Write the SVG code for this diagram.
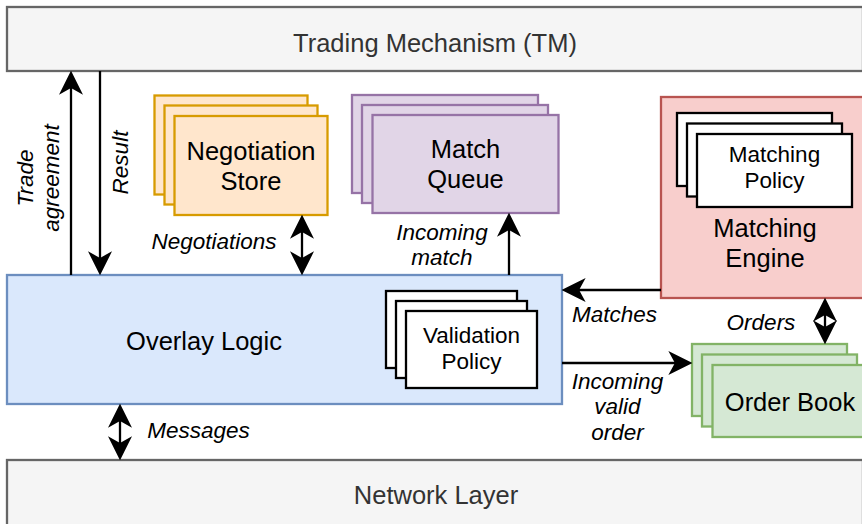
<svg xmlns="http://www.w3.org/2000/svg" width="862" height="524" viewBox="0 0 862 524">
<defs>
<marker id="arr" markerUnits="userSpaceOnUse" markerWidth="24" markerHeight="24" viewBox="0 0 22 22" refX="7" refY="11" orient="auto-start-reverse">
<path d="M0,0 L22,11 L0,22 L6,11 Z" fill="#000"/>
</marker>
<style>
.lbl{font-family:"Liberation Sans",Arial,sans-serif;font-size:25.5px;text-anchor:middle;fill:#000}
.gray{fill:#333}
.sm{font-family:"Liberation Sans",Arial,sans-serif;font-size:22.5px;text-anchor:middle;fill:#000}
.el{font-family:"Liberation Sans",Arial,sans-serif;font-size:22.5px;font-style:italic;text-anchor:middle;fill:#000}
.gbox{fill:#f5f5f5;stroke:#666;stroke-width:2.3}
.blue{fill:#dae8fc;stroke:#6c8ebf;stroke-width:2.3}
.org{fill:#ffe6cc;stroke:#d79b00;stroke-width:2.3}
.pur{fill:#e1d5e7;stroke:#9673a6;stroke-width:2.3}
.red{fill:#f8cecc;stroke:#b85450;stroke-width:2.3}
.grn{fill:#d5e8d4;stroke:#82b366;stroke-width:2.3}
.wht{fill:#fff;stroke:#000;stroke-width:2.3}
.cn{fill:none;stroke:#000;stroke-width:2.3}
</style>
</defs>
<rect width="862" height="524" fill="#fff"/>

<g id="tm">
<rect class="gbox" x="7" y="7" width="856" height="64"/>
<text class="lbl gray" x="435" y="52">Trading Mechanism (TM)</text>
</g>

<g id="network">
<rect class="gbox" x="7" y="460" width="856" height="80"/>
<text class="lbl gray" x="436" y="504">Network Layer</text>
</g>

<g id="overlay">
<rect class="blue" x="7" y="275" width="555" height="129"/>
<text class="lbl" x="204" y="350">Overlay Logic</text>
</g>

<g id="validation">
<rect class="wht" x="386" y="291" width="131" height="77"/>
<rect class="wht" x="396" y="301" width="131" height="77"/>
<rect class="wht" x="406" y="311" width="131" height="77"/>
<text class="sm" x="471.5" y="343">Validation</text>
<text class="sm" x="471.5" y="368.5">Policy</text>
</g>

<g id="negotiation">
<rect class="org" x="154.5" y="95.5" width="153" height="99"/>
<rect class="org" x="164.5" y="105.5" width="153" height="99"/>
<rect class="org" x="174.5" y="116" width="153" height="99"/>
<text class="lbl" x="251" y="159.5">Negotiation</text>
<text class="lbl" x="251" y="189.5">Store</text>
</g>

<g id="matchqueue">
<rect class="pur" x="352" y="95" width="186" height="98"/>
<rect class="pur" x="362" y="105" width="186" height="98"/>
<rect class="pur" x="372.5" y="115" width="186" height="98"/>
<text class="lbl" x="465.5" y="157.5">Match</text>
<text class="lbl" x="465.5" y="188">Queue</text>
</g>

<g id="engine">
<rect class="red" x="661" y="97" width="210" height="201"/>
<text class="lbl" x="765" y="237">Matching</text>
<text class="lbl" x="765" y="267">Engine</text>
</g>

<g id="policy">
<rect class="wht" x="677" y="113" width="155" height="73"/>
<rect class="wht" x="687" y="123.5" width="155" height="73"/>
<rect class="wht" x="697" y="134" width="155" height="73"/>
<text class="sm" x="774.5" y="161.5">Matching</text>
<text class="sm" x="774.5" y="188">Policy</text>
</g>

<g id="orderbook">
<rect class="grn" x="692" y="344" width="155" height="72"/>
<rect class="grn" x="702" y="354.5" width="155" height="72"/>
<rect class="grn" x="712.5" y="365" width="155" height="72"/>
<text class="lbl" x="790" y="411">Order Book</text>
</g>

<g id="connectors">
<line class="cn" x1="71" y1="275" x2="71" y2="87" marker-end="url(#arr)"/>
<line class="cn" x1="100" y1="71" x2="100" y2="259" marker-end="url(#arr)"/>
<line class="cn" x1="302" y1="231" x2="302" y2="259" marker-start="url(#arr)" marker-end="url(#arr)"/>
<line class="cn" x1="509" y1="275" x2="509" y2="229" marker-end="url(#arr)"/>
<line class="cn" x1="661" y1="290" x2="578" y2="290" marker-end="url(#arr)"/>
<line class="cn" x1="562" y1="363" x2="676" y2="363" marker-end="url(#arr)"/>
<line class="cn" x1="825" y1="314" x2="825" y2="328" marker-start="url(#arr)" marker-end="url(#arr)"/>
<line class="cn" x1="120" y1="420" x2="120" y2="444" marker-start="url(#arr)" marker-end="url(#arr)"/>
</g>

<g id="edge-labels">
<g transform="translate(40,178) rotate(-90)">
<text class="el" x="0" y="-7">Trade</text>
<text class="el" x="0" y="18.7">agreement</text>
</g>
<text class="el" transform="translate(128,162.5) rotate(-90)" x="0" y="0">Result</text>
<text class="el" x="214" y="249">Negotiations</text>
<text class="el" x="442" y="240">Incoming</text>
<text class="el" x="442" y="265">match</text>
<text class="el" x="614.5" y="322">Matches</text>
<text class="el" x="761" y="329.5">Orders</text>
<text class="el" x="617.5" y="388.5">Incoming</text>
<text class="el" x="617.5" y="414">valid</text>
<text class="el" x="617.5" y="439.5">order</text>
<text class="el" x="198.5" y="437.5">Messages</text>
</g>
</svg>
